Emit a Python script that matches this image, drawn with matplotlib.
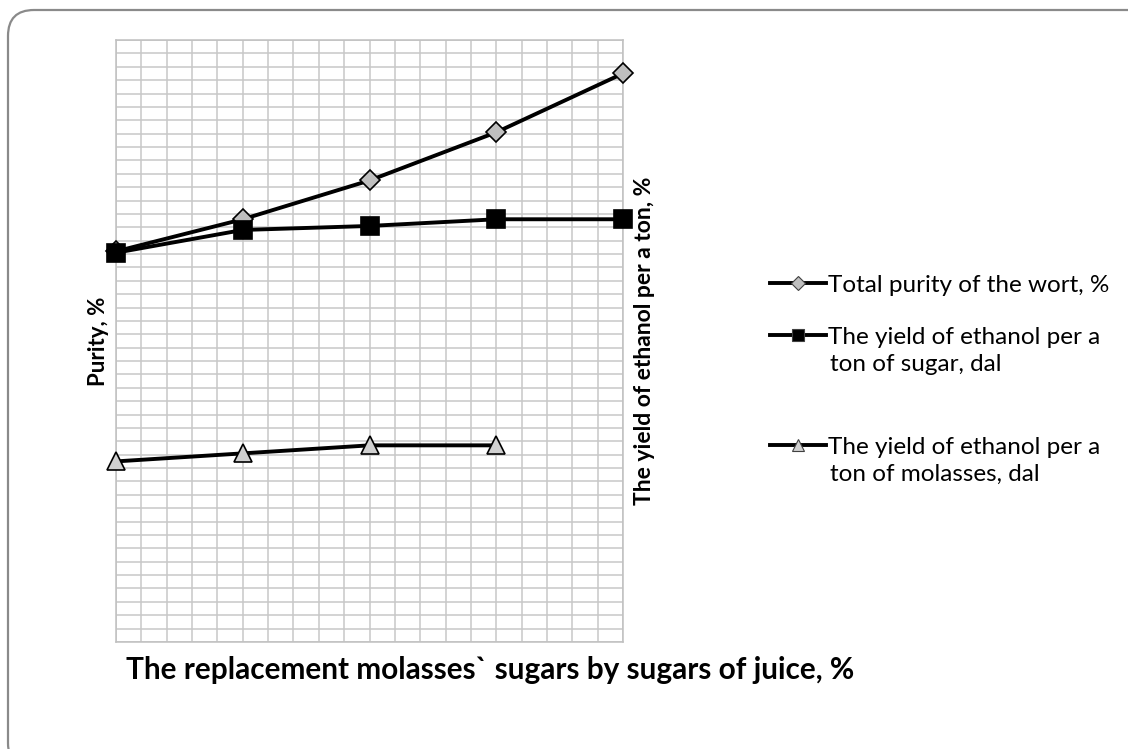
import numpy as np
import matplotlib.pyplot as plt
from matplotlib.patches import FancyBboxPatch
from matplotlib.lines import Line2D

plt.rcParams["font.family"] = ["Lato", "DejaVu Sans"]

# ---- data (grid units) ----
replacement = [0, 25, 50, 75, 100]
purity = [29.2, 31.6, 34.5, 38.1, 42.5]
yield_sugar = [29.1, 30.8, 31.1, 31.6, 31.6]
repl_molasses = [0, 25, 50, 75]
yield_molasses = [13.5, 14.1, 14.7, 14.7]

labels = ["Total purity of the wort, %",
          "The yield of ethanol per a\nton of sugar, dal",
          "The yield of ethanol per a\nton of molasses, dal"]

W, H = 1128, 749
fig = plt.figure(figsize=(W / 100, H / 100), dpi=100, facecolor="white")

# rounded frame of the chart area (pixel coords, runs off right/bottom)
frame = FancyBboxPatch((8, -20), 1150, H - 10 + 20,
                       boxstyle="round,pad=0,rounding_size=26",
                       transform=None, facecolor="none",
                       edgecolor="#8a8a8a", linewidth=1.6, zorder=0)
fig.patches.append(frame)

ax = fig.add_axes([116 / W, 1 - 642 / H, (623 - 116) / W, (642 - 40) / H])
ax.set_xlim(0, 100)
ax.set_ylim(0, 45)
ax.set_xticks(np.arange(0, 101, 5))
ax.set_yticks(np.arange(0, 46, 1))
ax.grid(True, color="#c8c8c8", linewidth=1.1)
ax.tick_params(length=0, labelleft=False, labelbottom=False)
for s in ax.spines.values():
    s.set_color("#c0c0c0")
    s.set_linewidth(1.1)
ax.set_axisbelow(True)

ax2 = ax.twinx()
ax2.set_ylim(0, 45)
ax2.set_yticks([])
for s in ax2.spines.values():
    s.set_visible(False)

kw = dict(color="black", linewidth=2.8, markeredgecolor="black", markeredgewidth=1.2,
          clip_on=False, zorder=5)
ax.plot(replacement, purity, marker="D", markersize=10, markerfacecolor="#bfbfbf", **kw)
ax2.plot(replacement, yield_sugar, marker="s", markersize=12.5, markerfacecolor="black", **kw)
ax2.plot(repl_molasses, yield_molasses, marker="^", markersize=13, markerfacecolor="#d0d0d0", **kw)

ax.set_ylabel("Purity, %", fontsize=16, fontweight="bold", labelpad=5)
ax2.set_ylabel("The yield of ethanol per a ton, %", fontsize=16.5, fontweight="bold", labelpad=8)
ax.set_xlabel("The replacement molasses` sugars by sugars of juice, %", fontsize=21.4,
              fontweight="bold", loc="left", labelpad=10)
ax.xaxis.label.set_x(10 / (623 - 116))

# legend, one block per entry
styles = [("D", 7, "#bfbfbf"), ("s", 8, "black"), ("^", 9, "#d0d0d0")]
ys = [285, 337, 447]
for (m, ms, fc), lab, yy in zip(styles, labels, ys):
    first, *rest = lab.split("\n")
    h = Line2D([], [], color="black", linewidth=2.8, marker=m, markersize=ms,
               markerfacecolor=fc, markeredgecolor="#404040", markeredgewidth=0.8)
    leg = fig.legend([h], [first], loc="center left",
                     bbox_to_anchor=(770 / W, 1 - yy / H), frameon=False,
                     fontsize=17.5, handlelength=2.3, handletextpad=0.1,
                     borderpad=0, borderaxespad=0)
    if rest:
        fig.text(830 / W, 1 - (yy + 27) / H, rest[0], fontsize=17.5,
                 va="center", ha="left")

fig.savefig("out.png", dpi=100, facecolor="white")
